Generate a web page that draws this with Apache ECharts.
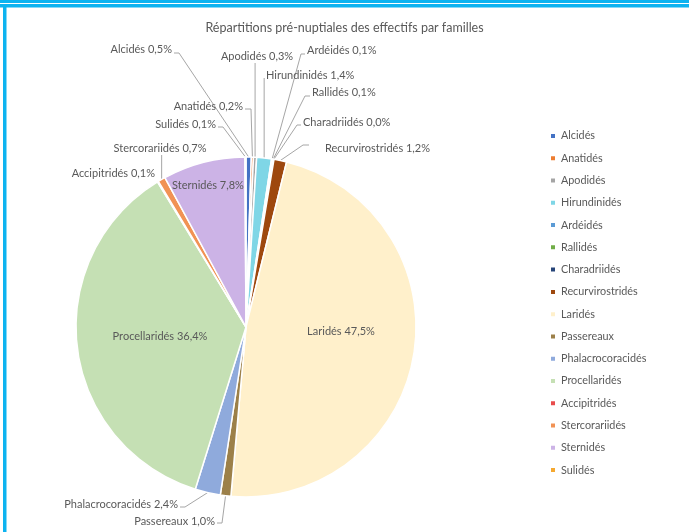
<!DOCTYPE html>
<html>
<head>
<meta charset="utf-8">
<script src="https://cdn.jsdelivr.net/npm/echarts@6/dist/echarts.min.js"></script>
<style>
html,body{margin:0;padding:0;background:#fff;}
#c{width:689px;height:532px;}
</style>
</head>
<body>
<div id="c"></div>
<script>
// ---- data ----
const chartTitle = 'Répartitions pré-nuptiales des effectifs par familles';
const categories = ['Alcidés','Anatidés','Apodidés','Hirundinidés','Ardéidés','Rallidés','Charadriidés','Recurvirostridés','Laridés','Passereaux','Phalacrocoracidés','Procellaridés','Accipitridés','Stercorariidés','Sternidés','Sulidés'];
const percents = [0.5, 0.2, 0.3, 1.4, 0.1, 0.1, 0.03, 1.2, 47.5, 1.0, 2.4, 36.4, 0.1, 0.7, 7.8, 0.1];
const colors = ['#4472C4','#ED7D31','#A5A5A5','#7FD6E6','#5B9BD5','#70AD47','#264478','#9E480E','#FFF0CB','#9C8049','#8FAADC','#C5E0B4','#E84C4C','#F19254','#CCB3E6','#F5A830'];

// ---- label layout (annotation placement, not data) ----
const labelPlacement = {
  'Alcidés':          {x:172, y:49,  align:'right',  line:[[179,53],[174,53]]},
  'Anatidés':         {x:243, y:106, align:'right',  line:[[251,109],[245,109]]},
  'Apodidés':         {x:257, y:56,  align:'center', line:[[null,63]]},
  'Hirundinidés':     {x:266, y:75,  align:'left',   line:[[null,78]]},
  'Ardéidés':         {x:307, y:50,  align:'left',   line:[[301,54],[305,54]]},
  'Rallidés':         {x:312, y:92,  align:'left',   line:[[305,96],[310,96]]},
  'Charadriidés':     {x:303, y:122, align:'left',   line:[[297,125],[301,125]]},
  'Recurvirostridés': {x:325, y:148, align:'left',   line:[[303,145],[309,145]]},
  'Laridés':          {x:341, y:331, align:'center'},
  'Passereaux':       {x:215, y:521, align:'right',  line:[[222,523],[217,523]]},
  'Phalacrocoracidés':{x:178, y:504, align:'right',  line:[[185,507],[180,507]]},
  'Procellaridés':    {x:160, y:336, align:'center'},
  'Accipitridés':     {x:155, y:173, align:'right'},
  'Stercorariidés':   {x:160, y:148, align:'center', line:[[null,155]]},
  'Sternidés':        {x:208, y:185, align:'center'},
  'Sulidés':          {x:216, y:124, align:'right',  line:[[223,127],[218,127]]}
};
const insideNames = ['Laridés','Procellaridés','Sternidés'];
const noLineNames = ['Laridés','Procellaridés','Sternidés','Accipitridés'];

const FONT = 'Lato';
const TXT = '#595959';

const chart = echarts.init(document.getElementById('c'), null, {renderer:'canvas'});
const option = {
  backgroundColor:'#ffffff',
  animation:false,
  title:{
    text: chartTitle, left:'center', top:16,
    textStyle:{fontFamily:FONT, fontSize:12.5, fontWeight:'normal', color:TXT}
  },
  legend:{
    orient:'vertical', left:544, top:125,
    icon:'rect', itemWidth:6, itemHeight:6, itemGap:10.27,
    textStyle:{fontFamily:FONT, fontSize:10.8, color:TXT, lineHeight:12},
    data: categories
  },
  graphic:[
    {type:'rect', shape:{x:0,y:0,width:689,height:3}, style:{fill:'#0DB3F0'}, silent:true},
    {type:'rect', shape:{x:0,y:4,width:689,height:3.5}, style:{fill:'#0DB3F0'}, silent:true},
    {type:'rect', shape:{x:3,y:4,width:3.5,height:528}, style:{fill:'#0DB3F0'}, silent:true}
  ],
  series:[{
    type:'pie',
    center:[246,327],
    radius:170,
    startAngle:90,
    clockwise:true,
    avoidLabelOverlap:false,
    itemStyle:{borderColor:'#ffffff', borderWidth:1.5},
    label:{
      show:true, position:'outside',
      formatter: p => p.name + ' ' + p.value.toFixed(1).replace('.', ',') + '%',
      fontFamily:FONT, fontSize:11, color:TXT
    },
    labelLine:{show:true, length:10, length2:10, lineStyle:{color:'#A6A6A6', width:1}},
    labelLayout: function(params){
      const name = categories[params.dataIndex];
      const pl = labelPlacement[name];
      if (!pl) return {};
      const res = {x:pl.x, y:pl.y, align:pl.align, verticalAlign:'middle'};
      if (pl.line && params.labelLinePoints) {
        const p0 = params.labelLinePoints[0];
        const pts = [[p0[0], p0[1]]];
        pl.line.forEach(pt => pts.push([pt[0] == null ? p0[0] : pt[0], pt[1]]));
        while (pts.length < 3) pts.push(pts[pts.length-1].slice());
        res.labelLinePoints = pts;
      }
      return res;
    },
    data: categories.map((n, i) => ({
      name: n,
      value: percents[i],
      itemStyle:{color: colors[i]},
      label: insideNames.includes(n) ? {position:'inside'} : undefined,
      labelLine: noLineNames.includes(n) ? {show:false} : undefined
    }))
  }]
};
chart.setOption(option);
</script>
</body>
</html>
